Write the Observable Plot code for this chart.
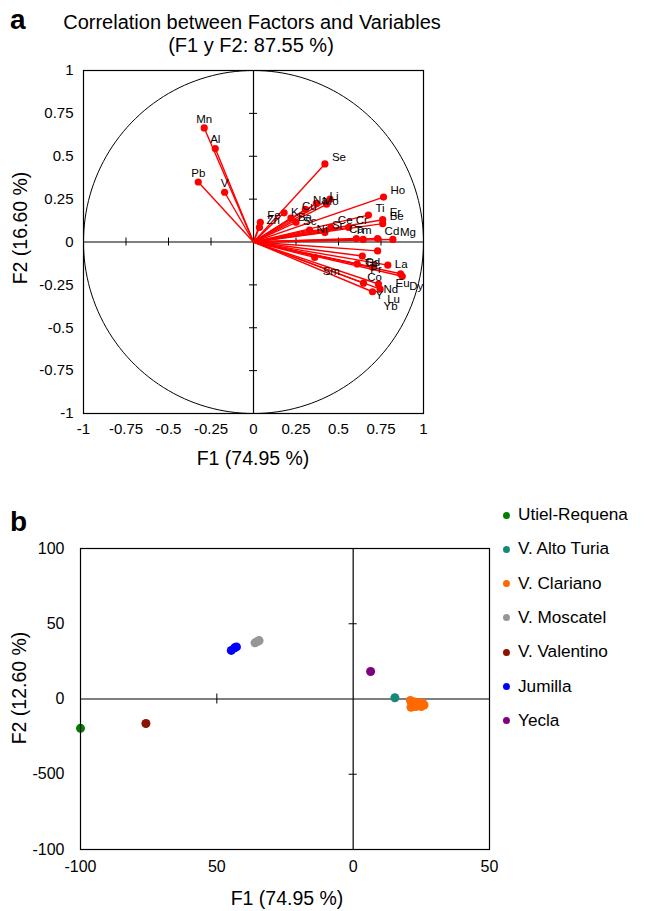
<!DOCTYPE html>
<html><head><meta charset="utf-8">
<script src="https://cdn.jsdelivr.net/npm/d3@7"></script>
<script src="https://cdn.jsdelivr.net/npm/@observablehq/plot@0.6"></script>
<style>
body{margin:0;background:#fff;font-family:"Liberation Sans",Arial,Helvetica,sans-serif;}
#wrap{position:relative;width:660px;height:911px;overflow:hidden;background:#fff;}
.abs{position:absolute;white-space:nowrap;color:#000;line-height:1;}
svg{position:absolute;overflow:visible;}
</style></head><body><div id="wrap"></div>
<script>
// ---------- Panel a: correlation circle ----------
const variables = ["Mn","Al","Pb","V","Se","Ho","Ti","Er","Be","Cr","Ca","Tm","Cd","Mg","Ce","Sr","Ni","Sc","Ba","K","Cu","Na","Mo","Li","Fe","Zn",
  "La","Eu","Dy","Gd","Pr","Tb","Co","Nd","Y","Lu","Yb","Sm"];
const f1 = [-0.29,-0.225,-0.325,-0.17,0.42,0.765,0.676,0.76,0.76,0.56,0.605,0.645,0.73,0.82,0.455,0.42,0.33,0.25,0.22,0.18,0.305,0.37,0.43,0.45,0.04,0.035,
  0.79,0.865,0.875,0.73,0.64,0.61,0.70,0.735,0.647,0.745,0.70,0.36];
const f2 = [0.665,0.545,0.35,0.29,0.455,0.262,0.157,0.13,0.107,0.085,0.02,0.015,0.02,0.015,0.085,0.055,0.07,0.115,0.14,0.17,0.19,0.225,0.22,0.25,0.115,0.085,
  -0.135,-0.185,-0.2,-0.052,-0.082,-0.128,-0.146,-0.245,-0.24,-0.275,-0.29,-0.09];
const labelSide = ["n","n","n","n","ne","ne","ne","ne","ne","ne","n","n","ne","ne","ne","ne","e","e","e","e","c","c","c","c","ne","ne",
  "e","s","se","sw","sp","e","s","ee","sy","se","sb","sm"];
const ticksA = [-1,-0.75,-0.5,-0.25,0,0.25,0.5,0.75,1];
const tickLabelsA = ["-1","-0.75","-0.5","-0.25","0","0.25","0.5","0.75","1"];

// ---------- Panel b: observations ----------
const regions = ["Utiel-Requena","V. Alto Turia","V. Clariano","V. Moscatel","V. Valentino","Jumilla","Yecla"];
const regionColors = ["#008000","#16897a","#ff6a00","#969696","#8b1300","#0000ff","#800080"];
const obsF1 = [
  [-100],
  [15.3],
  [21,21.5,22,22.5,23,23.5,24,24.5,25,25.5,26,21.2],
  [-36,-35,-34.5],
  [-76],
  [-44.7,-43.5,-42.8],
  [6.4]
];
const obsF2 = [
  [-19.5],
  [0.8],
  [-1,-3,-4.5,-2,-5,-3.5,-4,-2.5,-5,-3,-4,-5.5],
  [37.3,38.3,38.8],
  [-16.3],
  [32.3,34,34.6],
  [18.3]
];
const ticksBx = [-100,-50,0,50];
const tickLabelsBx = ["-100","50","0","50"];
const ticksBy = [100,50,0,-50,-100];
const tickLabelsBy = ["100","50","0","-500","-100"];

const FONT = '"Liberation Sans",Arial,Helvetica,sans-serif';
const wrap = document.getElementById("wrap");
function addText(txt, left, top, size, opts = {}) {
  const d = document.createElement("div");
  d.className = "abs";
  d.textContent = txt;
  d.style.left = left + "px";
  d.style.top = top + "px";
  d.style.fontSize = size + "px";
  if (opts.bold) d.style.fontWeight = "bold";
  let tr = opts.center ? "translate(-50%,-50%)" : "translate(0,-50%)";
  if (opts.rotate) tr += " rotate(-90deg)";
  d.style.transform = tr;
  wrap.appendChild(d);
  return d;
}

const vars = variables.map((name, i) => ({name, x: f1[i], y: f2[i], side: labelSide[i]}));
const circle = d3.range(0, 361, 2).map(a => ({x: Math.cos(a * Math.PI / 180), y: Math.sin(a * Math.PI / 180)}));
const inner = ticksA.filter(d => d !== 0 && Math.abs(d) !== 1);
const fmtA = d => tickLabelsA[ticksA.indexOf(d)];

const sideOpts = {
  n:  {dx: 0, dy: -9, textAnchor: "middle"},
  s:  {dx: 2, dy: 10, textAnchor: "middle"},
  sw: {dx: -5, dy: 11, textAnchor: "middle"},
  e:  {dx: 7, dy: -1, textAnchor: "start"},
  ee: {dx: 5, dy: 5, textAnchor: "start"},
  ne: {dx: 7, dy: -7, textAnchor: "start"},
  se: {dx: 7, dy: 10, textAnchor: "start"},
  sp: {dx: 8, dy: 13, textAnchor: "start"},
  sy: {dx: 12, dy: 12, textAnchor: "start"},
  sb: {dx: 11, dy: 15, textAnchor: "start"},
  sm: {dx: 8, dy: 14, textAnchor: "start"},
  c:  {dx: 4, dy: -3, textAnchor: "middle"}
};
const textMarks = Object.entries(sideOpts).map(([k, o]) =>
  Plot.text(vars.filter(v => v.side === k), {x: "x", y: "y", text: "name", fill: "#000", fontSize: 11.5, ...o}));

const plotA = Plot.plot({
  width: 440, height: 470,
  marginLeft: 83, marginRight: 17, marginTop: 70, marginBottom: 57,
  style: {fontFamily: FONT, fontSize: "15px", color: "#000", background: "transparent"},
  x: {domain: [-1, 1], ticks: ticksA, tickFormat: fmtA, tickSize: 0, tickPadding: 10, label: null},
  y: {domain: [-1, 1], ticks: ticksA, tickFormat: fmtA, tickSize: 0, tickPadding: 10, label: null},
  marks: [
    Plot.line(circle, {x: "x", y: "y", stroke: "#000", strokeWidth: 1}),
    Plot.ruleX([0], {stroke: "#000", strokeWidth: 1.2}),
    Plot.ruleY([0], {stroke: "#000", strokeWidth: 1.2}),
    Plot.ruleY(inner, {y: d => d, x1: 0, x2: 0, insetLeft: -4, insetRight: -4, stroke: "#000"}),
    Plot.ruleX(inner, {x: d => d, y1: 0, y2: 0, insetTop: -4, insetBottom: -4, stroke: "#000"}),
    Plot.link(vars, {x1: 0, y1: 0, x2: "x", y2: "y", stroke: "#ff0000", strokeWidth: 1.4}),
    Plot.dot(vars, {x: "x", y: "y", r: 3.6, fill: "#ff0000"}),
    ...textMarks,
    Plot.frame({stroke: "#000", strokeWidth: 1.2})
  ]
});
plotA.style.left = "0px"; plotA.style.top = "0px";
wrap.appendChild(plotA);

// panel a texts
addText("a", 10, 20, 28, {bold: true});
addText("Correlation between Factors and Variables", 252, 22, 20, {center: true});
addText("(F1 y F2: 87.55 %)", 251, 45, 20, {center: true});
addText("F1 (74.95 %)", 253, 459, 19.5, {center: true});
addText("F2 (16.60 %)", 21, 228, 19.5, {center: true, rotate: true});

// ---------- Plot b ----------
const obs = [];
regions.forEach((r, i) => obsF1[i].forEach((x, j) => obs.push({region: r, x, y: obsF2[i][j]})));
const innerBy = ticksBy.filter(d => d !== 0 && d !== -100);
const innerBx = ticksBx.filter(d => d !== 0 && d !== -100 && d !== 50);

const plotB = Plot.plot({
  width: 500, height: 409,
  marginLeft: 80, marginRight: 11, marginTop: 48, marginBottom: 60,
  style: {fontFamily: FONT, fontSize: "16px", color: "#000", background: "transparent"},
  x: {domain: [-100, 50], ticks: ticksBx, tickFormat: d => tickLabelsBx[ticksBx.indexOf(d)], tickSize: 0, tickPadding: 11, label: null},
  y: {domain: [-100, 100], ticks: ticksBy, tickFormat: d => tickLabelsBy[ticksBy.indexOf(d)], tickSize: 0, tickPadding: 16, label: null},
  color: {domain: regions, range: regionColors},
  marks: [
    Plot.ruleX([0], {stroke: "#000", strokeWidth: 1.2}),
    Plot.ruleY([0], {stroke: "#000", strokeWidth: 1.2}),
    Plot.ruleY(innerBy, {y: d => d, x1: 0, x2: 0, insetLeft: -4, insetRight: -4, stroke: "#000"}),
    Plot.ruleX(innerBx, {x: d => d, y1: 0, y2: 0, insetTop: -5, insetBottom: -5, stroke: "#000"}),
    Plot.dot(obs, {x: "x", y: "y", r: 4.5, fill: "region"}),
    Plot.frame({stroke: "#000", strokeWidth: 1.2})
  ]
});
plotB.style.left = "0px"; plotB.style.top = "500px";
wrap.appendChild(plotB);

addText("b", 10, 522, 28, {bold: true});
addText("F1 (74.95 %)", 287, 899, 19.5, {center: true});
addText("F2 (12.60 %)", 20, 688, 19.5, {center: true, rotate: true});

// legend
regions.forEach((r, i) => {
  const cy = 515 + i * 34.3;
  const dot = document.createElement("div");
  dot.style.cssText = `position:absolute;left:${503}px;top:${cy - 3.5}px;width:7px;height:7px;border-radius:50%;background:${regionColors[i]};`;
  wrap.appendChild(dot);
  addText(r, 518, cy, 17.2);
});
</script>
</body></html>
